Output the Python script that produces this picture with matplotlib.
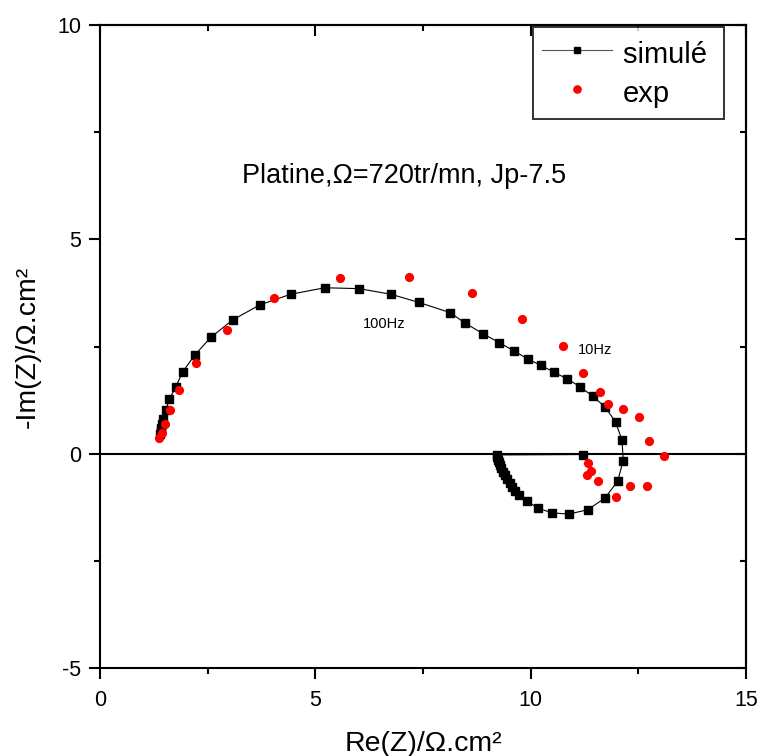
import matplotlib
matplotlib.use("Agg")
import matplotlib.pyplot as plt
from matplotlib.lines import Line2D

plt.rcParams['font.family'] = ['Liberation Sans', 'DejaVu Sans']
plt.rcParams['axes.unicode_minus'] = False

# Simulated impedance (black squares), high frequency -> low frequency
sim_re = [1.40, 1.41, 1.42, 1.44, 1.46, 1.53, 1.61, 1.76, 1.92, 2.20, 2.57, 3.08, 3.71,
          4.43, 5.22, 6.01, 6.75, 7.40, 8.13, 8.47, 8.89, 9.27, 9.61, 9.93, 10.24,
          10.54, 10.84, 11.15, 11.44, 11.73, 11.97, 12.12, 12.15, 12.02, 11.72, 11.32,
          10.88, 10.49, 10.17, 9.92, 9.73, 9.64, 9.57, 9.51, 9.45, 9.40, 9.36, 9.32,
          9.29, 9.26, 9.24, 9.22, 9.21, 11.22]
sim_im = [0.45, 0.52, 0.60, 0.70, 0.80, 1.02, 1.27, 1.56, 1.91, 2.30, 2.71, 3.12, 3.47,
          3.72, 3.87, 3.85, 3.72, 3.53, 3.29, 3.05, 2.80, 2.59, 2.40, 2.21, 2.06,
          1.90, 1.75, 1.56, 1.34, 1.09, 0.74, 0.32, -0.16, -0.64, -1.04, -1.31,
          -1.41, -1.38, -1.27, -1.11, -0.96, -0.86, -0.77, -0.68, -0.59, -0.50, -0.42, -0.34,
          -0.27, -0.20, -0.14, -0.08, -0.03, -0.02]

# Experimental impedance (red dots)
exp_re = [1.38, 1.43, 1.52, 1.63, 1.83, 2.22, 2.95, 4.05, 5.57, 7.17, 8.63, 9.81, 10.74,
          11.22, 11.61, 11.80, 12.15, 12.52, 12.75, 13.10, 12.71, 12.30, 11.98, 11.57,
          11.40, 11.30, 11.32]
exp_im = [0.37, 0.49, 0.69, 1.02, 1.48, 2.11, 2.88, 3.62, 4.10, 4.13, 3.74, 3.14, 2.51,
          1.88, 1.45, 1.16, 1.04, 0.85, 0.29, -0.06, -0.75, -0.75, -1.00, -0.63,
          -0.40, -0.49, -0.22]

x_ticks = [0, 5, 10, 15]
y_ticks = [-5, 0, 5, 10]
x_minor = [2.5, 7.5, 12.5]
y_minor = [-2.5, 2.5, 7.5]

fig = plt.figure(figsize=(7.61, 7.56), dpi=100)
ax = fig.add_axes([100/761, 88/756, 646/761, 643/756])

ax.axhline(0, color='black', lw=1.5, zorder=1.5)
ax.plot(sim_re, sim_im, color='black', lw=0.8, marker='s', markersize=5.3,
        markerfacecolor='black', markeredgecolor='black', zorder=3)
ax.plot(exp_re, exp_im, linestyle='none', marker='o', markersize=5.6,
        markerfacecolor='red', markeredgecolor='red', zorder=4)

ax.set_xlim(0, 15)
ax.set_ylim(-5, 10)
ax.set_xticks(x_ticks)
ax.set_yticks(y_ticks)
ax.set_xticks(x_minor, minor=True)
ax.set_yticks(y_minor, minor=True)
ax.tick_params(axis='both', which='major', direction='out', length=8, width=1.5,
               labelsize=15.5)
ax.tick_params(axis='both', which='minor', direction='out', length=4, width=1.5)
ax.tick_params(axis='x', which='major', pad=8)
ax.tick_params(axis='y', which='major', pad=5.5)

# inward ticks on top and right
secx = ax.secondary_xaxis('top')
secx.set_xticks(x_ticks)
secx.set_xticks(x_minor, minor=True)
secx.tick_params(which='major', direction='in', length=8, width=1.5, labeltop=False)
secx.tick_params(which='minor', direction='in', length=4, width=1.5)
secx.set_xticklabels([])
secy = ax.secondary_yaxis('right')
secy.set_yticks(y_ticks)
secy.set_yticks(y_minor, minor=True)
secy.tick_params(which='major', direction='in', length=8, width=1.5, labelright=False)
secy.tick_params(which='minor', direction='in', length=4, width=1.5)
secy.set_yticklabels([])
for s in list(ax.spines.values()) + list(secx.spines.values()) + list(secy.spines.values()):
    s.set_linewidth(1.5)

ax.set_xlabel('Re(Z)/Ω.cm²', fontsize=20.5, labelpad=14)
ax.set_ylabel('-Im(Z)/Ω.cm²', fontsize=20.5, labelpad=12)

ax.text(7.06, 6.48, 'Platine,Ω=720tr/mn, Jp-7.5', fontsize=19.5,
        ha='center', va='center')
ax.text(6.6, 3.03, '100Hz', fontsize=10.5, ha='center', va='center')
ax.text(11.5, 2.42, '10Hz', fontsize=10.5, ha='center', va='center')

handles = [
    Line2D([], [], color='#555555', lw=0.8, marker='s', markersize=5,
           markerfacecolor='black', markeredgecolor='black'),
    Line2D([], [], linestyle='none', marker='o', markersize=5.2,
           markerfacecolor='red', markeredgecolor='red'),
]
leg = ax.legend(handles, ['simulé ', 'exp'], loc='upper left',
                bbox_to_anchor=((533 - 100) / 646, (668 - 27) / 643),
                borderaxespad=0, fontsize=21, frameon=True, fancybox=False,
                handlelength=2.4, handleheight=1.45, handletextpad=0.35,
                borderpad=0.32, labelspacing=0.14)
leg.get_frame().set_edgecolor('black')
leg.get_frame().set_linewidth(1.4)

fig.savefig('out.png', dpi=100)
